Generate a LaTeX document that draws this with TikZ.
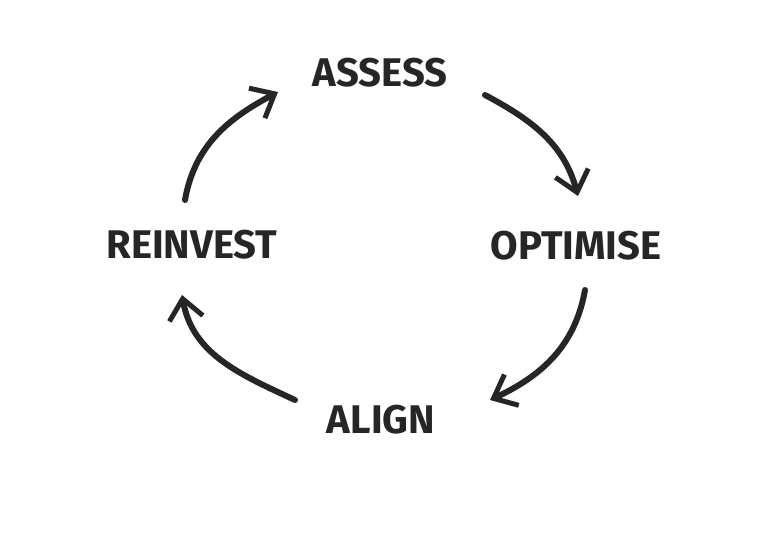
\documentclass[tikz,border=0pt]{standalone}
\usepackage{fontspec}
\setmainfont{Fira Sans}
\usepackage{tikz}
\usetikzlibrary{arrows.meta}
\definecolor{charcoal}{rgb}{0.15,0.15,0.15}

\begin{document}
\begin{tikzpicture}[x=1pt, y=1pt]
\tikzstyle{word_c}=[font=\fontsize{40}{40}\selectfont\bfseries, text=charcoal, inner sep=2pt]
\tikzstyle{arrow_c}=[draw=charcoal, line width=6, line cap=round, -{Straight Barb[length=20, width=34, line width=5]}]

\useasboundingbox (0,0) rectangle (768,-533);

\path (380,-73) node[word_c](A) {ASSESS}
	  (576,-246) node[word_c](O) {OPTIMISE}
	  (381,-420) node[word_c](L) {ALIGN}
	  (192,-245) node[word_c](R) {REINVEST};

\draw[arrow_c] ([shift={(105,-22)}]A.center) to[out=-28, in=105] ([shift={(2,50)}]O.center);
\draw[arrow_c] ([shift={(9,-44)}]O.center) to[out=-100, in=25] ([shift={(109,20)}]L.center);
\draw[arrow_c] ([shift={(-86,20)}]L.center) to[out=155, in=-80] ([shift={(-10,-50)}]R.center);
\draw[arrow_c] ([shift={(-7,45)}]R.center) to[out=80, in=-152] ([shift={(-102,-19)}]A.center);

\end{tikzpicture}
\end{document}
